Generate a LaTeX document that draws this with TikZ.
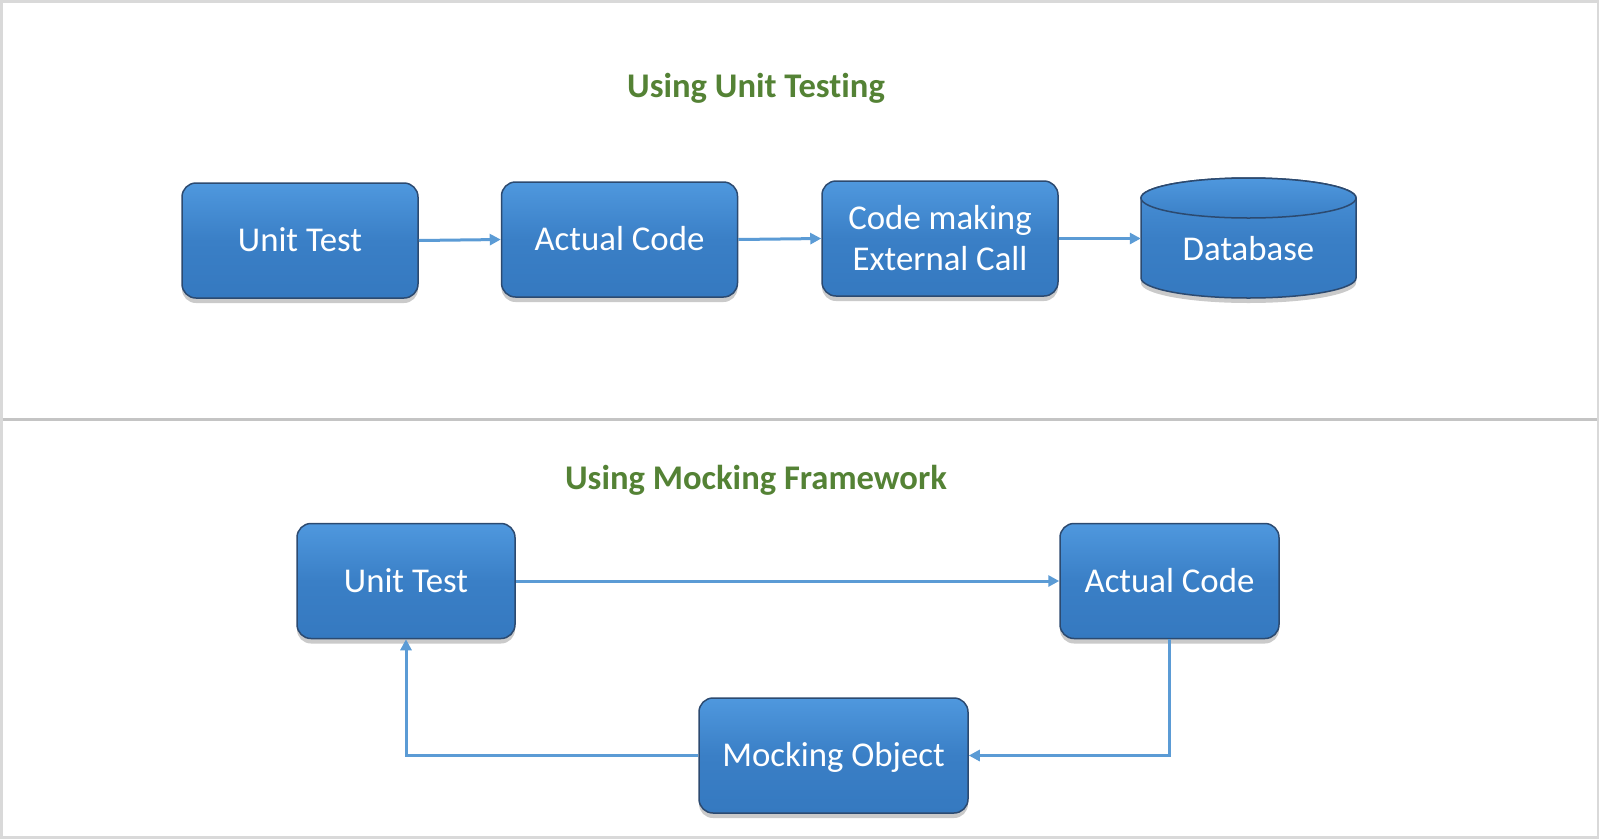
\documentclass[tikz,border=0pt]{standalone}
\usepackage{fontspec}
\setmainfont{Carlito}[Ligatures=NoCommon]
\usetikzlibrary{shadows,arrows.meta,positioning}
\definecolor{boxfill}{HTML}{3A7FC6}
\definecolor{boxtop}{HTML}{4F98DE}
\definecolor{boxbot}{HTML}{3579C0}
\definecolor{boxline}{HTML}{2C4A70}
\definecolor{arrowc}{HTML}{5B9BD5}
\definecolor{titlec}{HTML}{548235}
\definecolor{framec}{HTML}{D9D9D9}
\definecolor{divc}{HTML}{C4C4C4}
\tikzset{
  bluebox/.style={draw=boxline, line width=1.5pt, rounded corners=14pt,
    top color=boxtop, bottom color=boxbot, middle color=boxfill,
    minimum height=115pt, text=white, align=center,
    font=\fontsize{34.8}{41}\selectfont,
    drop shadow={shadow xshift=0pt, shadow yshift=-5pt, opacity=0.35, fill=black!60}},
  oneline/.style={text height=22pt, text depth=0pt},
  conn/.style={draw=arrowc, line width=3pt, -{Triangle[length=11pt,width=11pt]}},
  titletext/.style={text=titlec, font=\fontsize{34.6}{40}\selectfont\bfseries, text height=23pt, text depth=0pt}
}
\begin{document}
\begin{tikzpicture}[x=1pt,y=-1pt]
\useasboundingbox (0,0) rectangle (1600,839);
\draw[framec, line width=2.5pt] (1.25,1.25) rectangle (1598,837.5);
\draw[divc, line width=3pt] (2.5,419) -- (1597,419);

\node[titletext] (t1) at (756,86) {Using Unit Testing};
\node[titletext] (t2) at (756,478) {Using Mocking Framework};

% top row
\node[bluebox, oneline, minimum width=236pt] (ut1) at (300,240.5) {Unit Test};
\node[bluebox, oneline, minimum width=236pt] (ac1) at (619.5,239.5) {Actual Code};
\node[bluebox, minimum width=236pt] (ext) at (940,238.5) {Code making\\External Call};

% database cylinder
\fill[black!60, opacity=0.35] (1141,203) -- (1141,283) arc[start angle=180, end angle=360, x radius=107.5pt, y radius=20pt] -- (1356,203) arc[start angle=0, end angle=180, x radius=107.5pt, y radius=20pt] -- cycle;
\path[draw=boxline, line width=1.5pt, top color=boxtop!80!boxfill, bottom color=boxbot, middle color=boxfill]
  (1141,198) -- (1141,278) arc[start angle=180, end angle=360, x radius=107.5pt, y radius=20pt]
  -- (1356,198) arc[start angle=0, end angle=180, x radius=107.5pt, y radius=20pt] -- cycle;
\path[draw=boxline, line width=1.5pt, top color=boxtop, bottom color=boxfill]
  (1248.5,198) ellipse[x radius=107.5pt, y radius=20pt];
\node[oneline, minimum width=215pt, minimum height=100pt, text=white, font=\fontsize{34.8}{41}\selectfont] (db) at (1248.5,249) {Database};

\draw[conn] (ut1.east) -- (ac1.west);
\draw[conn] (ac1.east) -- (ext.west);
\draw[conn] (ext.east) -- (ext.east -| db.west);

% bottom row
\node[bluebox, oneline, minimum width=218pt] (ut2) at (406,581) {Unit Test};
\node[bluebox, oneline, minimum width=219pt] (ac2) at (1169.5,581) {Actual Code};
\node[bluebox, oneline, minimum width=269pt] (mo) at (833.5,755.5) {Mocking Object};

\draw[conn] (ut2.east) -- (ac2.west);
\draw[conn] (ac2.south) |- (mo.east);
\draw[conn] (mo.west) -| (ut2.south);
\end{tikzpicture}
\end{document}
